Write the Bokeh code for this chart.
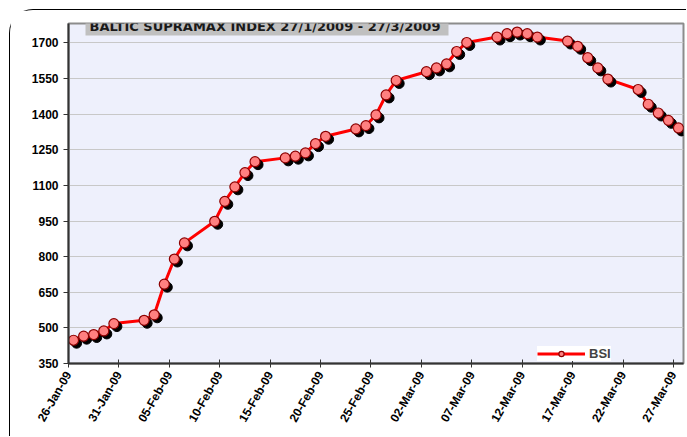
import math
import pandas as pd
from bokeh.plotting import figure
from bokeh.models import (ColumnDataSource, Range1d, FixedTicker, DatetimeTickFormatter,
                          Label, Legend, LegendItem)
from bokeh.transform import dodge
from bokeh.embed import file_html
from bokeh.resources import INLINE

# ---- data ----
dates = ["2009-01-23",
         "2009-01-26", "2009-01-27", "2009-01-28", "2009-01-29", "2009-01-30",
         "2009-02-02", "2009-02-03", "2009-02-04", "2009-02-05", "2009-02-06",
         "2009-02-09", "2009-02-10", "2009-02-11", "2009-02-12", "2009-02-13",
         "2009-02-16", "2009-02-17", "2009-02-18", "2009-02-19", "2009-02-20",
         "2009-02-23", "2009-02-24", "2009-02-25", "2009-02-26", "2009-02-27",
         "2009-03-02", "2009-03-03", "2009-03-04", "2009-03-05", "2009-03-06",
         "2009-03-09", "2009-03-10", "2009-03-11", "2009-03-12", "2009-03-13",
         "2009-03-16", "2009-03-17", "2009-03-18", "2009-03-19", "2009-03-20",
         "2009-03-23", "2009-03-24", "2009-03-25", "2009-03-26", "2009-03-27"]
bsi = [445,
       448, 465, 472, 487, 518,
       532, 555, 684, 790, 858,
       949, 1033, 1094, 1154, 1200,
       1216, 1223, 1237, 1276, 1307,
       1338, 1352, 1397, 1481, 1542,
       1579, 1595, 1612, 1664, 1702,
       1725, 1739, 1746, 1739, 1725,
       1708, 1686, 1638, 1595, 1548,
       1504, 1442, 1405, 1374, 1342]
x_tick_dates = ["2009-01-26", "2009-01-31", "2009-02-05", "2009-02-10", "2009-02-15",
                "2009-02-20", "2009-02-25", "2009-03-02", "2009-03-07", "2009-03-12",
                "2009-03-17", "2009-03-22", "2009-03-27"]
y_ticks = [350, 500, 650, 800, 950, 1100, 1250, 1400, 1550, 1700]
title_text = "BALTIC SUPRAMAX INDEX 27/1/2009 - 27/3/2009"
series_name = "BSI"

# points sit in the middle of each day (Excel "between tick marks")
xs = pd.to_datetime(dates) + pd.Timedelta(hours=12)
src = ColumnDataSource(dict(x=xs, y=bsi))

DAY_MS = 86400000
p = figure(width=677, height=427, output_backend="svg", toolbar_location=None,
           x_axis_type="datetime",
           x_range=Range1d(pd.Timestamp("2009-01-26"), pd.Timestamp("2009-03-28")),
           y_range=Range1d(350, 1782),
           min_border_left=58, min_border_right=4, min_border_top=13, min_border_bottom=74,
           background_fill_color="#EEF0FC", border_fill_color="white",
           outline_line_color="#8C8C8C", outline_line_width=2,
           styles={"margin": "9px 0 0 9px",
                   "border-left": "1px solid black", "border-top": "1px solid black",
                   "border-top-left-radius": "24px"})

line_r = p.line("x", "y", source=src, line_color="#FF0000", line_width=3)
p.scatter(dodge("x", 0.3 * DAY_MS), dodge("y", -12.5), source=src, size=10,
          fill_color="black", line_color="black")
pts_r = p.scatter("x", "y", source=src, size=10, fill_color="#FF8080",
                  line_color="#8B0000", line_width=1.2)

# axes
tick_ms = [pd.Timestamp(d).value // 10**6 for d in x_tick_dates]
p.xaxis.ticker = FixedTicker(ticks=tick_ms)
fmt = "%d-%b-%y"
p.xaxis.formatter = DatetimeTickFormatter(days=fmt, months=fmt, years=fmt, hours=fmt,
                                          hourmin=fmt, minutes=fmt)
p.xaxis.major_label_orientation = math.radians(60)
p.yaxis.ticker = FixedTicker(ticks=y_ticks)
for ax in (p.xaxis, p.yaxis):
    ax.axis_line_color = "#333333"
    ax.axis_line_width = 2
    ax.major_tick_line_color = "#333333"
    ax.minor_tick_line_color = None
    ax.major_label_text_font = "Liberation Sans"
    ax.major_label_text_font_style = "bold"
    ax.major_label_text_color = "black"
p.xaxis.major_label_text_font_size = "12px"
p.yaxis.major_label_text_font_size = "12px"
p.xaxis.major_tick_in = 4
p.xaxis.major_tick_out = 4
p.yaxis.major_tick_in = 0
p.yaxis.major_tick_out = 5
p.xgrid.grid_line_color = None
p.ygrid.grid_line_color = "#C8C8C8"

# title: grey box (blank label) plus the visible text drawn on top
title_style = dict(x_units="screen", y_units="screen", text_align="left", text_baseline="top",
                   text_font="DejaVu Sans", text_font_style="bold", text_font_size="13px")
p.add_layout(Label(x=17, y=353, text=" " * 78, text_color="#C0C0C0",
                   background_fill_color="#C0C0C0", padding=5, **title_style))
p.add_layout(Label(x=21, y=345, text=title_text, text_color="#1A1A1A", **title_style))

legend = Legend(items=[LegendItem(label=series_name, renderers=[line_r, pts_r])],
                location=(469, 2), glyph_width=48, glyph_height=13, label_height=13,
                label_standoff=4, padding=4, margin=0, spacing=0,
                border_line_color=None, background_fill_color="white", background_fill_alpha=1,
                label_text_font="Liberation Sans", label_text_font_style="bold",
                label_text_font_size="13px")
p.add_layout(legend)

open("out.html", "w").write(file_html(p, INLINE))
